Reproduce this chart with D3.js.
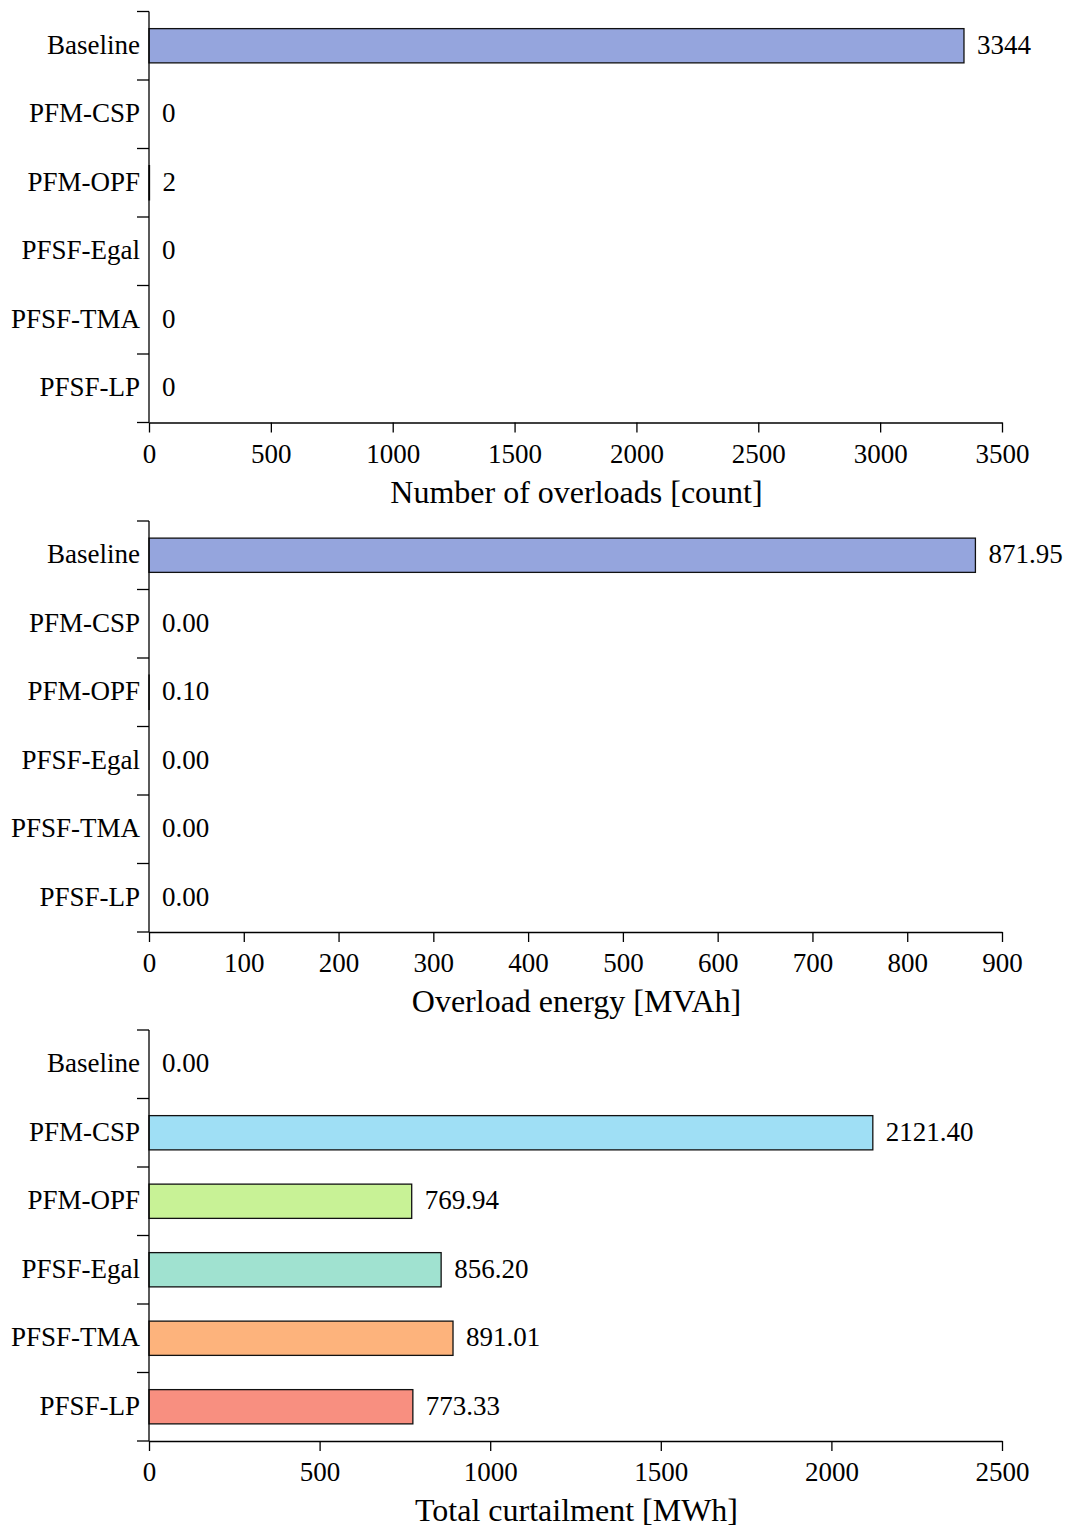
<!DOCTYPE html>
<html>
<head>
<meta charset="utf-8">
<script src="https://cdn.jsdelivr.net/npm/d3@7"></script>
<style>
  body { margin: 0; background: #fff; }
  svg text { font-family: "Liberation Serif", "Times New Roman", serif; fill: #000; }
</style>
</head>
<body>
<svg id="chart" width="1067" height="1528"></svg>
<script>
// categorias y series
var metodos = ["Baseline", "PFM-CSP", "PFM-OPF", "PFSF-Egal", "PFSF-TMA", "PFSF-LP"];
var sobrecargas = [3344, 0, 2, 0, 0, 0];
var energia = [871.95, 0.00, 0.10, 0.00, 0.00, 0.00];
var recorte = [0.00, 2121.40, 769.94, 856.20, 891.01, 773.33];
var colores = ["#95a5dd", "#9fdff5", "#c8f296", "#a0e2d0", "#fdb37c", "#f88f80"];

var ticks1 = [0, 500, 1000, 1500, 2000, 2500, 3000, 3500];
var ticks2 = [0, 100, 200, 300, 400, 500, 600, 700, 800, 900];
var ticks3 = [0, 500, 1000, 1500, 2000, 2500];

var svg = d3.select("#chart");
var izq = 149, der = 1002, alto = 411;

function panel(top, valores, ticks, titulo, fmt) {
    var g = svg.append("g").attr("transform", "translate(0," + top + ")");

    var x = d3.scaleLinear().domain([0, ticks[ticks.length - 1]]).range([izq, der]);
    var y = d3.scaleBand().domain(metodos).range([0, alto]).paddingInner(0.5).paddingOuter(0.25);

    // barras
    g.selectAll(".bar")
        .data(valores)
        .enter()
        .append("rect")
        .attr("x", x(0))
        .attr("y", function(d, i) { return y(metodos[i]); })
        .attr("width", function(d) { return x(d) - x(0); })
        .attr("height", y.bandwidth())
        .attr("fill", function(d, i) { return colores[i]; })
        .attr("stroke", function(d) { return d > 0 ? "#111" : "none"; })
        .attr("stroke-width", 1.3);

    // etiquetas de valor
    g.selectAll(".val")
        .data(valores)
        .enter()
        .append("text")
        .attr("x", function(d) { return x(d) + 13; })
        .attr("y", function(d, i) { return y(metodos[i]) + y.bandwidth() / 2; })
        .attr("dy", "0.3em")
        .style("font-size", "27px")
        .text(function(d) { return fmt(d); });

    // eje y: linea, marcas en los limites y nombres
    var limites = d3.range(metodos.length + 1).map(function(i) { return i * y.step(); });
    g.append("line")
        .attr("x1", izq).attr("x2", izq)
        .attr("y1", 0).attr("y2", alto)
        .attr("stroke", "#000").attr("stroke-width", 1.3);
    g.selectAll(".ytick")
        .data(limites)
        .enter()
        .append("line")
        .attr("x1", izq - 12).attr("x2", izq)
        .attr("y1", function(d) { return d; })
        .attr("y2", function(d) { return d; })
        .attr("stroke", "#000").attr("stroke-width", 1.3);
    g.selectAll(".ylab")
        .data(metodos)
        .enter()
        .append("text")
        .attr("x", izq - 9)
        .attr("y", function(d) { return y(d) + y.bandwidth() / 2; })
        .attr("dy", "0.3em")
        .attr("text-anchor", "end")
        .style("font-size", "27px")
        .text(function(d) { return d; });

    // eje x
    var ejeX = d3.axisBottom(x).tickValues(ticks).tickFormat(d3.format("d"))
        .tickSize(10).tickSizeOuter(0).tickPadding(11);
    var gx = g.append("g")
        .attr("transform", "translate(0," + alto + ")")
        .call(ejeX);
    gx.selectAll("path, line").attr("stroke", "#000").attr("stroke-width", 1.3);
    gx.selectAll("text").style("font-size", "27px").style("font-family", "Liberation Serif, serif").attr("fill", "#000");

    g.append("text")
        .attr("x", (izq + der) / 2 + 1)
        .attr("y", alto + 70)
        .attr("dy", "0.32em")
        .attr("text-anchor", "middle")
        .style("font-size", "32px")
        .text(titulo);
}

panel(11.5, sobrecargas, ticks1, "Number of overloads [count]", d3.format("d"));
panel(521, energia, ticks2, "Overload energy [MVAh]", d3.format(".2f"));
panel(1030, recorte, ticks3, "Total curtailment [MWh]", d3.format(".2f"));
</script>
</body>
</html>
